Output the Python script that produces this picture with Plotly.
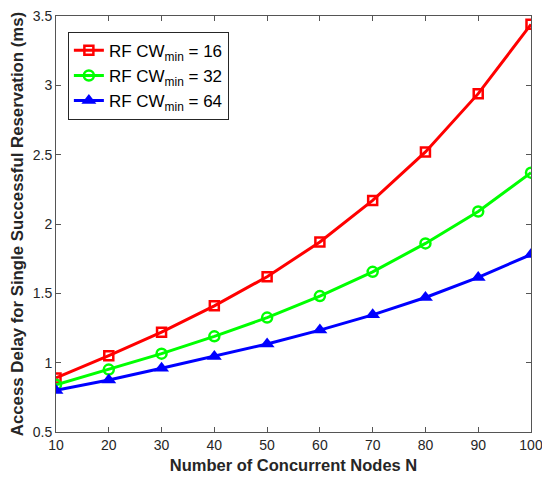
import plotly.graph_objects as go

# data
nodes = [10, 20, 30, 40, 50, 60, 70, 80, 90, 100]
delay_16 = [0.89, 1.05, 1.22, 1.41, 1.62, 1.87, 2.17, 2.52, 2.94, 3.44]
delay_32 = [0.84, 0.95, 1.065, 1.19, 1.325, 1.48, 1.655, 1.86, 2.09, 2.37]
delay_64 = [0.80, 0.875, 0.96, 1.045, 1.135, 1.235, 1.345, 1.47, 1.615, 1.78]

x_ticks = [10, 20, 30, 40, 50, 60, 70, 80, 90, 100]
y_ticks = [0.5, 1, 1.5, 2, 2.5, 3, 3.5]
y_labels = ["0.5", "1", "1.5", "2", "2.5", "3", "3.5"]

fig = go.Figure()

fig.add_trace(go.Scatter(
    x=nodes, y=delay_16, mode="lines+markers",
    name="RF CW<sub>min</sub> = 16",
    line=dict(color="#ff0000", width=3),
    marker=dict(symbol="square-open", size=9, color="#ff0000", line=dict(width=2.5)),
))
fig.add_trace(go.Scatter(
    x=nodes, y=delay_32, mode="lines+markers",
    name="RF CW<sub>min</sub> = 32",
    line=dict(color="#00ff00", width=3),
    marker=dict(symbol="circle-open", size=10, color="#00ff00", line=dict(width=2.5)),
))
fig.add_trace(go.Scatter(
    x=nodes, y=delay_64, mode="lines+markers",
    name="RF CW<sub>min</sub> = 64",
    line=dict(color="#0000ff", width=3),
    marker=dict(symbol="triangle-up", size=13, color="#0000ff"),
))

axis_common = dict(
    showline=True, linecolor="#555555", linewidth=1, mirror="ticks",
    ticks="inside", ticklen=5, tickcolor="#555555",
    showgrid=False, zeroline=False, ticklabeloverflow="allow", automargin=False,
    tickfont=dict(family="Arial, Liberation Sans", size=14, color="#262626"),
)

# the page body has an 8px margin, so the figure is shrunk to fit the window
fig.update_layout(
    width=542, height=474,
    margin=dict(l=48, r=19, t=8, b=50),
    paper_bgcolor="white", plot_bgcolor="white",
    font=dict(family="Arial, Liberation Sans", color="#262626"),
    xaxis=dict(
        range=[10, 100], tickvals=x_ticks,
        title=dict(text="<b>Number of Concurrent Nodes N</b>", font=dict(size=16.5), standoff=7),
        **axis_common,
    ),
    yaxis=dict(
        range=[0.5, 3.5], tickvals=y_ticks, ticktext=y_labels,
        title=dict(text="<b>Access Delay for Single Successful Reservation (ms)</b>", font=dict(size=16.8), standoff=4),
        **axis_common,
    ),
    legend=dict(
        x=0.025, y=0.962, xanchor="left", yanchor="top",
        bgcolor="white", bordercolor="#262626", borderwidth=1,
        font=dict(size=17, color="#000000"),
    ),
)

fig.write_html("out.html")
